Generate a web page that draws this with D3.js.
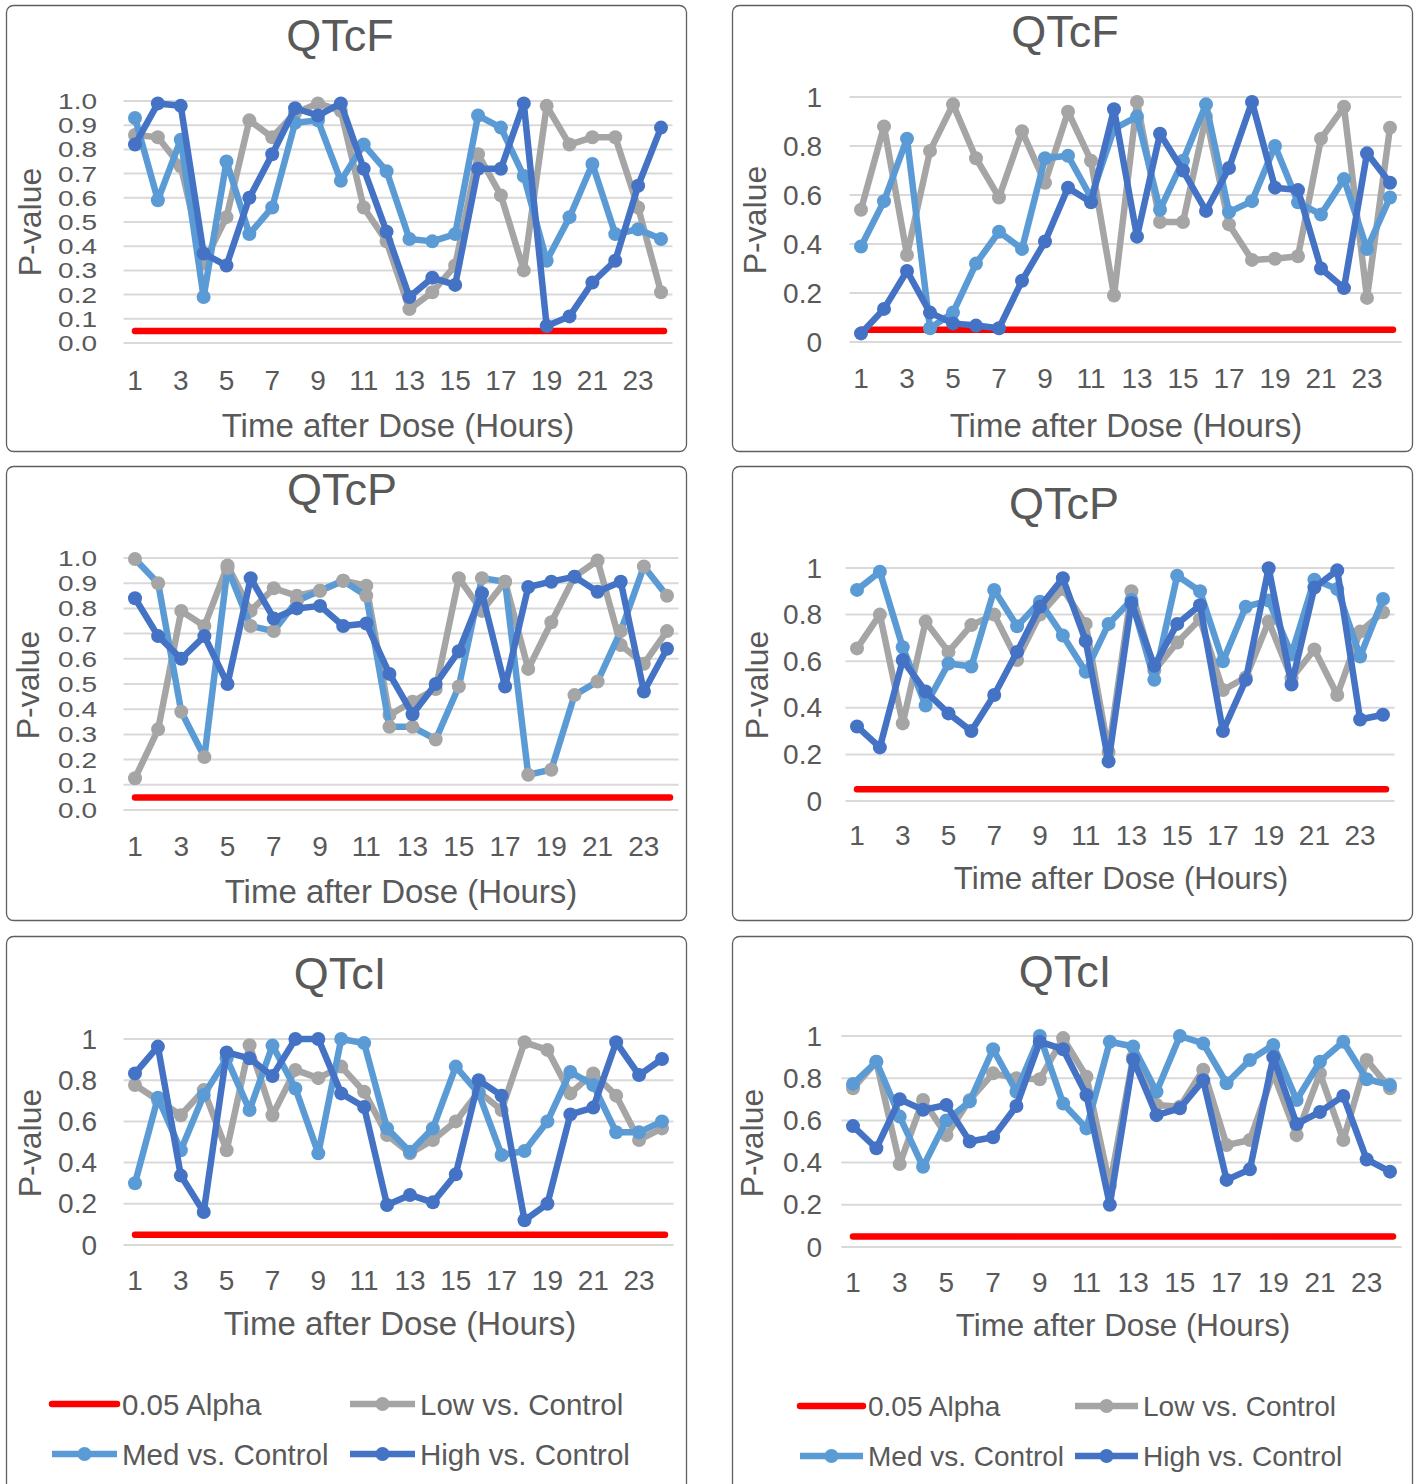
<!DOCTYPE html>
<html>
<head>
<meta charset="utf-8">
<script src="https://cdn.jsdelivr.net/npm/d3@7"></script>
<style>
  body { margin: 0; background: #fff; }
  text { font-family: "Liberation Sans", Arial, sans-serif; fill: #595959; }
</style>
</head>
<body>
<svg id="chart" width="1417" height="1484"></svg>
<script>
// hours after dose (categories)
const hours = [1,2,3,4,5,6,7,8,9,10,11,12,13,14,15,16,17,18,19,20,21,22,23,24];
const oddHourLabels = [1,3,5,7,9,11,13,15,17,19,21,23];
const alpha = 0.05;
const ticksFine = [0,0.1,0.2,0.3,0.4,0.5,0.6,0.7,0.8,0.9,1.0];
const ticksCoarse = [0,0.2,0.4,0.6,0.8,1];

// QTcF, left
const qtcfLeftLow  = [0.86,0.85,0.73,0.33,0.52,0.92,0.85,0.95,0.99,0.96,0.56,0.42,0.14,0.21,0.32,0.78,0.61,0.30,0.98,0.82,0.85,0.85,0.56,0.21];
const qtcfLeftMed  = [0.93,0.59,0.84,0.19,0.75,0.45,0.56,0.91,0.92,0.67,0.82,0.71,0.43,0.42,0.45,0.94,0.89,0.69,0.34,0.52,0.74,0.45,0.47,0.43];
const qtcfLeftHigh = [0.82,0.99,0.98,0.37,0.32,0.60,0.78,0.97,0.94,0.99,0.72,0.46,0.19,0.27,0.24,0.72,0.72,0.99,0.07,0.11,0.25,0.34,0.65,0.89];
// QTcF, right
const qtcfRightLow  = [0.54,0.88,0.355,0.78,0.97,0.75,0.59,0.86,0.65,0.94,0.74,0.19,0.98,0.49,0.49,0.92,0.48,0.335,0.34,0.35,0.83,0.96,0.18,0.875];
const qtcfRightMed  = [0.39,0.575,0.83,0.056,0.12,0.32,0.45,0.38,0.75,0.76,0.59,0.87,0.92,0.54,0.74,0.97,0.53,0.575,0.80,0.57,0.52,0.665,0.38,0.59];
const qtcfRightHigh = [0.035,0.135,0.29,0.12,0.076,0.067,0.056,0.25,0.41,0.63,0.57,0.95,0.43,0.85,0.70,0.535,0.71,0.98,0.63,0.62,0.30,0.22,0.77,0.65];
// QTcP, left
const qtcpLeftLow  = [0.126,0.32,0.79,0.73,0.97,0.79,0.88,0.85,0.87,0.91,0.89,0.377,0.43,0.48,0.92,0.79,0.906,0.56,0.745,0.926,0.99,0.655,0.58,0.71];
const qtcpLeftMed  = [0.996,0.90,0.39,0.21,0.96,0.73,0.71,0.83,0.87,0.91,0.85,0.33,0.33,0.28,0.49,0.92,0.906,0.14,0.16,0.456,0.51,0.71,0.966,0.85];
const qtcpLeftHigh = [0.84,0.69,0.60,0.69,0.50,0.92,0.76,0.80,0.81,0.73,0.74,0.54,0.38,0.50,0.63,0.86,0.49,0.885,0.906,0.926,0.866,0.906,0.47,0.64];
// QTcP, right
const qtcpRightLow  = [0.655,0.80,0.333,0.77,0.64,0.755,0.80,0.605,0.80,0.91,0.76,0.21,0.90,0.56,0.68,0.78,0.476,0.53,0.77,0.527,0.65,0.455,0.727,0.81];
const qtcpRightMed  = [0.906,0.984,0.66,0.41,0.59,0.577,0.906,0.75,0.855,0.71,0.555,0.76,0.863,0.52,0.967,0.90,0.60,0.834,0.86,0.63,0.95,0.91,0.62,0.867];
const qtcpRightHigh = [0.32,0.23,0.605,0.47,0.376,0.30,0.455,0.64,0.834,0.956,0.687,0.17,0.85,0.58,0.76,0.84,0.30,0.52,0.999,0.50,0.916,0.99,0.35,0.37];
// QTcI, left
const qtciLeftLow  = [0.777,0.704,0.63,0.752,0.46,0.97,0.63,0.85,0.81,0.866,0.744,0.534,0.445,0.51,0.60,0.744,0.655,0.984,0.947,0.736,0.833,0.725,0.51,0.566];
const qtciLeftMed  = [0.30,0.715,0.46,0.728,0.906,0.655,0.968,0.76,0.445,1.0,0.98,0.566,0.453,0.566,0.866,0.736,0.437,0.456,0.60,0.84,0.777,0.547,0.547,0.60];
const qtciLeftHigh = [0.833,0.963,0.337,0.16,0.935,0.906,0.82,1.0,1.0,0.736,0.67,0.194,0.243,0.207,0.343,0.80,0.725,0.12,0.20,0.634,0.667,0.984,0.825,0.903];
// QTcI, right
const qtciRightLow  = [0.752,0.878,0.393,0.697,0.53,0.697,0.823,0.80,0.795,0.99,0.807,0.29,0.90,0.673,0.665,0.84,0.483,0.507,0.823,0.53,0.823,0.507,0.886,0.752];
const qtciRightMed  = [0.773,0.878,0.618,0.38,0.60,0.69,0.937,0.736,1.0,0.68,0.562,0.973,0.95,0.736,1.0,0.965,0.776,0.886,0.957,0.697,0.878,0.973,0.795,0.768];
const qtciRightHigh = [0.573,0.468,0.70,0.65,0.673,0.50,0.52,0.668,0.973,0.937,0.72,0.20,0.889,0.625,0.657,0.79,0.318,0.368,0.90,0.583,0.64,0.716,0.415,0.357];

const colors = { alpha: "#FF0000", low: "#A5A5A5", med: "#5B9BD5", high: "#4472C4" };

// panel frames and plot positions (pixels)
const panels = [
  { title: "QTcF", box: [6, 5, 680, 446], x1: 135, x24: 661, y0: 343, y1: 101, ticks: ticksFine, fmt: d3.format(".1f"), squash: 0.8,
    ytx: 97, xty: 380, tt: [340, 35], yl: [30, 222], xl: [398, 425], xls: 33, low: qtcfLeftLow, med: qtcfLeftMed, high: qtcfLeftHigh },
  { title: "QTcF", box: [732, 5, 680, 446], x1: 861, x24: 1390, y0: 342, y1: 97, ticks: ticksCoarse, fmt: d => String(+d.toFixed(1)),
    ytx: 822, xty: 378, tt: [1065, 31], yl: [755, 220], xl: [1126, 425], xls: 33, low: qtcfRightLow, med: qtcfRightMed, high: qtcfRightHigh },
  { title: "QTcP", box: [6, 466, 680, 454], x1: 135, x24: 667, y0: 810, y1: 558, ticks: ticksFine, fmt: d3.format(".1f"), squash: 0.82,
    ytx: 97, xty: 846, tt: [342, 489], yl: [28, 685], xl: [401, 891], xls: 33, low: qtcpLeftLow, med: qtcpLeftMed, high: qtcpLeftHigh, medMarker: colors.low },
  { title: "QTcP", box: [732, 466, 680, 454], x1: 857, x24: 1383, y0: 801, y1: 568, ticks: ticksCoarse, fmt: d => String(+d.toFixed(1)),
    ytx: 822, xty: 835, tt: [1064, 503], yl: [757, 685], xl: [1121, 878], xls: 31.3, low: qtcpRightLow, med: qtcpRightMed, high: qtcpRightHigh },
  { title: "QTcI", box: [6, 936, 680, 560], x1: 135, x24: 662, y0: 1245, y1: 1039, ticks: ticksCoarse, fmt: d => String(+d.toFixed(1)),
    ytx: 97, xty: 1280, tt: [340, 973], yl: [30, 1143], xl: [400, 1323], xls: 33, low: qtciLeftLow, med: qtciLeftMed, high: qtciLeftHigh,
    legend: { rows: [1404, 1454], cols: [52, 350], len: 65, size: 29.5 } },
  { title: "QTcI", box: [732, 936, 680, 560], x1: 853, x24: 1390, y0: 1247, y1: 1036, ticks: ticksCoarse, fmt: d => String(+d.toFixed(1)),
    ytx: 822, xty: 1282, tt: [1065, 971], yl: [752, 1143], xl: [1123, 1325], xls: 31.3, low: qtciRightLow, med: qtciRightMed, high: qtciRightHigh,
    legend: { rows: [1406, 1456], cols: [800, 1075], len: 63, size: 28 } }
];

const svg = d3.select("#chart");

panels.forEach(p => {
  const g = svg.append("g");

  g.append("rect")
    .attr("x", p.box[0] + 0.5).attr("y", p.box[1] + 0.5)
    .attr("width", p.box[2]).attr("height", p.box[3])
    .attr("rx", 7)
    .attr("fill", "#fff").attr("stroke", "#5f5f5f").attr("stroke-width", 1.3);

  const x = d3.scalePoint().domain(hours).range([p.x1, p.x24]);
  const y = d3.scaleLinear().domain([0, 1]).range([p.y0, p.y1]);
  const half = x.step() / 2;

  // gridlines
  g.selectAll(".grid").data(p.ticks).enter().append("line")
    .attr("x1", p.x1 - half).attr("x2", p.x24 + half)
    .attr("y1", d => y(d)).attr("y2", d => y(d))
    .attr("stroke", "#d9d9d9").attr("stroke-width", 2);

  // y tick labels (squashed vertically where the ticks are dense)
  const sq = p.squash || 1;
  g.selectAll(".yt").data(p.ticks).enter().append("text")
    .attr("transform", d => `translate(${p.ytx},${y(d)}) scale(1,${sq})`)
    .attr("text-anchor", "end").attr("dominant-baseline", "central")
    .style("font-size", "28px")
    .text(p.fmt);

  // x tick labels
  g.selectAll(".xt").data(oddHourLabels).enter().append("text")
    .attr("x", d => x(d)).attr("y", p.xty)
    .attr("text-anchor", "middle").attr("dominant-baseline", "central")
    .style("font-size", "28px")
    .text(d => d);

  // titles
  g.append("text").attr("x", p.tt[0]).attr("y", p.tt[1])
    .attr("text-anchor", "middle").attr("dominant-baseline", "central")
    .style("font-size", "45px").text(p.title);
  g.append("text")
    .attr("transform", `translate(${p.yl[0]},${p.yl[1]}) rotate(-90)`)
    .attr("text-anchor", "middle").attr("dominant-baseline", "central")
    .style("font-size", "32px").text("P-value");
  g.append("text").attr("x", p.xl[0]).attr("y", p.xl[1])
    .attr("text-anchor", "middle").attr("dominant-baseline", "central")
    .style("font-size", p.xls + "px").text("Time after Dose (Hours)");

  // alpha line
  g.append("line")
    .attr("x1", x(hours[0])).attr("x2", x(hours[hours.length - 1]) + 3)
    .attr("y1", y(alpha)).attr("y2", y(alpha))
    .attr("stroke", colors.alpha).attr("stroke-width", 6.5).attr("stroke-linecap", "round");

  const line = d3.line().x((d, i) => x(hours[i])).y(d => y(d));
  const series = [
    { vals: p.low, stroke: colors.low, marker: colors.low },
    { vals: p.med, stroke: colors.med, marker: p.medMarker || colors.med },
    { vals: p.high, stroke: colors.high, marker: colors.high }
  ];
  series.forEach(s => {
    g.append("path").datum(s.vals)
      .attr("d", line)
      .attr("fill", "none").attr("stroke", s.stroke)
      .attr("stroke-width", 6.5).attr("stroke-linejoin", "round");
    g.selectAll(null).data(s.vals).enter().append("circle")
      .attr("cx", (d, i) => x(hours[i])).attr("cy", d => y(d))
      .attr("r", 7).attr("fill", s.marker);
  });

  // legend
  if (p.legend) {
    const L = p.legend;
    const items = [
      { label: "0.05 Alpha", color: colors.alpha, dot: false, r: 0, c: 0 },
      { label: "Low vs. Control", color: colors.low, dot: true, r: 0, c: 1 },
      { label: "Med vs. Control", color: colors.med, dot: true, r: 1, c: 0 },
      { label: "High vs. Control", color: colors.high, dot: true, r: 1, c: 1 }
    ];
    items.forEach(it => {
      const lx = L.cols[it.c], ly = L.rows[it.r];
      g.append("line").attr("x1", lx).attr("x2", lx + L.len).attr("y1", ly).attr("y2", ly)
        .attr("stroke", it.color).attr("stroke-width", 6.5).attr("stroke-linecap", it.dot ? "butt" : "round");
      if (it.dot) {
        g.append("circle").attr("cx", lx + L.len / 2).attr("cy", ly).attr("r", 7).attr("fill", it.color);
      }
      g.append("text").attr("x", lx + L.len + 5).attr("y", ly)
        .attr("dominant-baseline", "central")
        .style("font-size", L.size + "px").text(it.label);
    });
  }
});
</script>
</body>
</html>
